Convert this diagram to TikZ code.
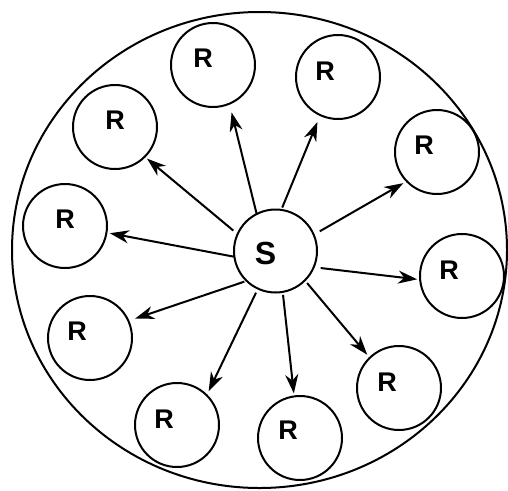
\documentclass[tikz,border=0pt]{standalone}
\usepackage{fontspec}
\setmainfont{Liberation Sans}
\usetikzlibrary{arrows.meta}
\newcommand\offlbl[3]{\makebox[0pt]{\hspace*{#1pt}\hspace*{#1pt}\raisebox{\dimexpr#2pt-0.358em\relax}[0pt][0pt]{#3}}}
\begin{document}
\begin{tikzpicture}[x=1pt,y=-1pt,
  every node/.style={line width=2pt},
  rnode/.style={circle,draw,minimum size=84pt,inner sep=0pt,outer sep=0pt,font=\fontsize{27}{27}\selectfont\bfseries},
  snode/.style={circle,draw,minimum size=83pt,inner sep=0pt,outer sep=0pt,font=\fontsize{32}{32}\selectfont\bfseries},
  link/.style={line width=2pt,-{Stealth[length=19pt,width=13pt,inset=6pt]}}]
\useasboundingbox (0,0) rectangle (508,490);
\draw[line width=2pt] (259.5,250) ellipse [x radius=247.5, y radius=238];
\node[snode] (S) at (275.5,251) {\offlbl{-10}{-2}{S}};
\node[rnode] (R1) at (213,65) {\offlbl{-10}{7}{R}};
\node[rnode] (R2) at (338,77) {\offlbl{-13}{6.5}{R}};
\node[rnode] (R3) at (115,127) {\offlbl{0}{7}{R}};
\node[rnode] (R4) at (437,152) {\offlbl{-13}{7}{R}};
\node[rnode] (R5) at (65,226) {\offlbl{0}{7}{R}};
\node[rnode] (R6) at (462,276) {\offlbl{-13}{6}{R}};
\node[rnode] (R7) at (90,338) {\offlbl{-13}{7}{R}};
\node[rnode] (R8) at (399,388) {\offlbl{-12}{6}{R}};
\node[rnode] (R9) at (177,425) {\offlbl{-13}{6}{R}};
\node[rnode] (R10) at (300,438) {\offlbl{-12}{8}{R}};
\draw[link,shorten >=9pt] (S.117) -- (R1.-67);
\draw[link,shorten <=2.5pt,shorten >=7.5pt] (S.82) -- (R2.-115);
\draw[link,shorten <=7pt,shorten >=4pt] (S.23) -- (R4.-136);
\draw[link,shorten <=7pt,shorten >=3pt] (S.-23) -- (R6.-175);
\draw[link,shorten <=3.5pt,shorten >=4pt] (S.-45) -- (R8.134);
\draw[link,shorten <=3pt,shorten >=3pt] (S.-80) -- (R10.98);
\draw[link,shorten <=4.5pt,shorten >=4.5pt] (S.-115) -- (R9.45);
\draw[link,shorten <=2.5pt,shorten >=7pt] (S.-134) -- (R7.24);
\draw[link,shorten <=0.5pt,shorten >=3.5pt] (S.-172) -- (R5.-9);
\draw[link,shorten <=5.5pt,shorten >=3pt] (S.156) -- (R3.-45);
\end{tikzpicture}
\end{document}
